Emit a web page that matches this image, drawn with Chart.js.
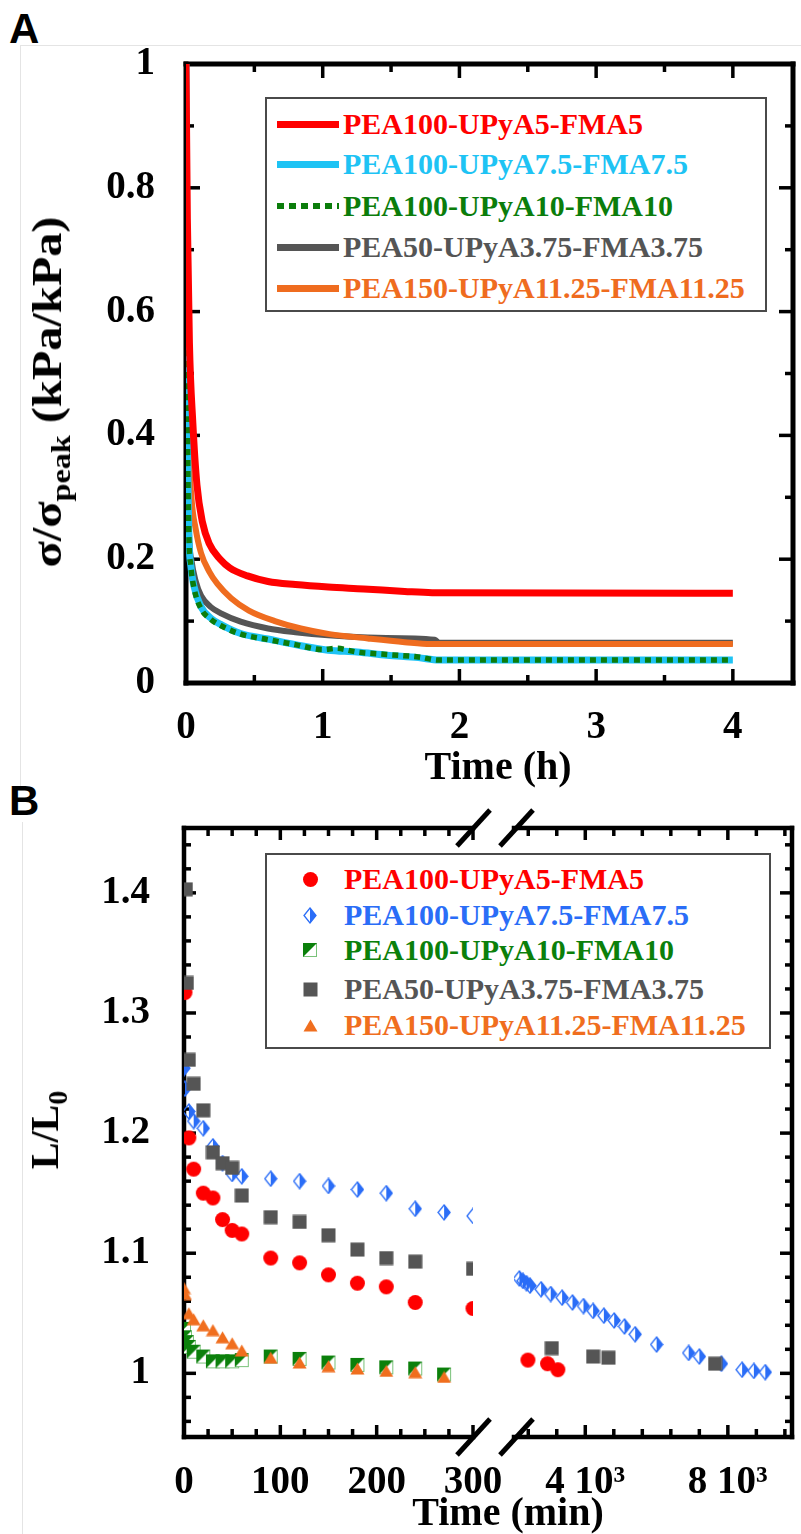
<!DOCTYPE html>
<html>
<head>
<meta charset="utf-8">
<title>Stress relaxation and length recovery</title>
<script src="https://cdn.jsdelivr.net/npm/chart.js@4.4.1/dist/chart.umd.min.js"></script>
<style>
  body { margin: 0; background: #fff; }
  #page { position: relative; width: 801px; height: 1534px; overflow: hidden;
          font-family: "Liberation Serif", "Times New Roman", serif; font-weight: bold; color: #000; }
  #page > canvas { position: absolute; }
  .tag { position: absolute; font: bold 42px "Liberation Sans", Arial, sans-serif; line-height: 42px; }
  .edge { position: absolute; border-color: #e4e4e4; border-style: solid; border-width: 0; }
  .legend { position: absolute; border: 2px solid #4a4a4a; box-sizing: border-box; background: #fff; }
  .row { position: absolute; font-size: 30px; line-height: 30px; white-space: nowrap; }
  .sample { position: absolute; height: 7px; width: 62px; }
  .mark { position: absolute; }
  .xtitle { position: absolute; font-size: 40px; line-height: 40px; white-space: nowrap; transform: translateX(-50%); }
  .ytitle { position: absolute; font-size: 40px; line-height: 40px; white-space: nowrap;
            transform: translate(-50%, -50%) rotate(-90deg); }
  .ytitle sub { font-size: 28px; line-height: 0; vertical-align: -9px; }
  #titleAY { font-size: 42px; transform: translate(-50%, -50%) rotate(-90deg) scaleX(1.15); }
</style>
</head>
<body>
<div id="page">
  <div class="edge" style="left:20px;top:45px;width:781px;height:740px;border-top-width:1px;border-left-width:1px;"></div>
  <div class="edge" style="left:22px;top:822px;width:1px;height:712px;border-left-width:1px;"></div>
  <div class="tag" style="left:9px;top:8px;">A</div>
  <div class="tag" style="left:9px;top:780px;">B</div>

  <canvas id="chartA" width="801" height="790" style="left:0;top:0;"></canvas>
  <canvas id="chartBL" width="801" height="744" style="left:0;top:790px;"></canvas>
  <canvas id="chartBR" width="306" height="744" style="left:495px;top:790px;"></canvas>

  <div id="titleAY" class="ytitle" style="left:47px;top:392px;">σ/σ<sub>peak</sub> (kPa/kPa)</div>
  <div class="xtitle" style="left:498px;top:746px;">Time (h)</div>
  <div class="ytitle" style="left:45px;top:1130px;">L/L<sub>0</sub></div>
  <div class="xtitle" style="left:508px;top:1492px;">Time (min)</div>

  <div id="legendA" class="legend" style="left:265px;top:97px;width:502px;height:215px;"></div>
  <div id="legendB" class="legend" style="left:265px;top:853px;width:506px;height:196px;"></div>
</div>

<script>
// series names, shared by both panels
const seriesNames = ['PEA100-UPyA5-FMA5', 'PEA100-UPyA7.5-FMA7.5', 'PEA100-UPyA10-FMA10',
                     'PEA50-UPyA3.75-FMA3.75', 'PEA150-UPyA11.25-FMA11.25'];
const relaxColors = ['#ff0000', '#1ec3f4', '#0b7d0b', '#555555', '#ef6c1f'];
const recoveryColors = ['#ff0000', '#2a6df7', '#0b800b', '#555555', '#f06e1e'];

// Panel A: stress relaxation, time (h) vs sigma/sigma_peak
const aT_5    = [0, 0.01, 0.025, 0.05, 0.08, 0.12, 0.17, 0.25, 0.32, 0.45, 0.6, 0.8, 1.04, 1.3, 1.6, 1.8, 4];
const aS_5    = [1, 0.75, 0.55, 0.42, 0.32, 0.26, 0.225, 0.2, 0.186, 0.173, 0.164, 0.159, 0.155, 0.152, 0.148, 0.146, 0.145];
const aT_75   = [0, 0.008, 0.02, 0.035, 0.06, 0.11, 0.18, 0.26, 0.4, 0.6, 0.8, 1.04, 1.25, 1.47, 1.7, 1.85, 4];
const aS_75   = [1, 0.5, 0.25, 0.19, 0.155, 0.123, 0.105, 0.094, 0.08, 0.071, 0.062, 0.053, 0.05, 0.045, 0.041, 0.037, 0.037];
const aT_10   = [0, 0.008, 0.02, 0.035, 0.06, 0.11, 0.18, 0.26, 0.4, 0.6, 0.8, 1.0, 1.1, 1.25, 1.47, 1.7, 1.85, 4];
const aS_10   = [1, 0.5, 0.25, 0.19, 0.152, 0.12, 0.103, 0.092, 0.079, 0.07, 0.062, 0.054, 0.056, 0.05, 0.046, 0.042, 0.037, 0.037];
const aT_375  = [0, 0.008, 0.02, 0.04, 0.07, 0.11, 0.18, 0.26, 0.4, 0.6, 0.8, 1.04, 1.4, 1.82, 1.85, 4];
const aS_375  = [1, 0.5, 0.26, 0.198, 0.165, 0.141, 0.123, 0.112, 0.099, 0.088, 0.082, 0.077, 0.073, 0.070, 0.065, 0.065];
const aT_1125 = [0, 0.01, 0.02, 0.04, 0.07, 0.11, 0.17, 0.23, 0.33, 0.46, 0.65, 0.84, 1.05, 1.33, 1.6, 1.79, 4];
const aS_1125 = [1, 0.6, 0.4, 0.3, 0.25, 0.21, 0.18, 0.16, 0.137, 0.117, 0.1, 0.088, 0.079, 0.072, 0.066, 0.063, 0.063];
const aXTicks = [0, 1, 2, 3, 4];
const aYTicks = [0, 0.2, 0.4, 0.6, 0.8, 1];

// Panel B: length recovery, time (min) vs L/L0
const bT_5    = [1, 5, 10, 20, 30, 40, 50, 60, 90, 120, 150, 180, 210, 240, 300, 2390, 2940, 3230];
const bL_5    = [1.317, 1.196, 1.170, 1.150, 1.146, 1.128, 1.119, 1.116, 1.096, 1.092, 1.082, 1.075, 1.072, 1.059, 1.054, 1.011, 1.008, 1.003];
const bT_75   = [0, 1, 5, 10, 20, 30, 40, 50, 60, 90, 120, 150, 180, 210, 240, 270, 300,
                 2150, 2250, 2350, 2450, 2760, 3030, 3350, 3640, 3950, 4220, 4520, 4810, 5100, 5400, 6000, 6900, 7200, 7820, 8400, 8730, 9050];
const bL_75   = [1.254, 1.237, 1.218, 1.210, 1.204, 1.189, 1.175, 1.166, 1.164, 1.162, 1.160, 1.156, 1.153, 1.150, 1.137, 1.134, 1.131,
                 1.079, 1.077, 1.075, 1.073, 1.070, 1.066, 1.063, 1.059, 1.056, 1.052, 1.048, 1.044, 1.039, 1.0325, 1.024, 1.017, 1.014, 1.008, 1.003, 1.002, 1.001];
const bT_10   = [0, 1, 3, 5, 10, 20, 30, 40, 50, 60, 90, 120, 150, 180, 210, 240, 270];
const bL_10   = [1.037, 1.030, 1.026, 1.022, 1.018, 1.014, 1.010, 1.010, 1.010, 1.011, 1.014, 1.012, 1.009, 1.007, 1.005, 1.004, 0.999];
const bT_375  = [2, 3, 5, 10, 20, 30, 40, 50, 60, 90, 120, 150, 180, 210, 240, 300, 3060, 4220, 4650, 7640];
const bL_375  = [1.403, 1.325, 1.261, 1.241, 1.219, 1.184, 1.175, 1.171, 1.148, 1.130, 1.126, 1.115, 1.103, 1.096, 1.093, 1.087, 1.021, 1.014, 1.013, 1.008];
const bT_1125 = [0, 1, 5, 10, 20, 30, 40, 50, 60, 90, 120, 150, 180, 210, 240, 270];
const bL_1125 = [1.071, 1.066, 1.050, 1.045, 1.040, 1.036, 1.030, 1.025, 1.019, 1.013, 1.009, 1.006, 1.004, 1.002, 1.001, 0.997];
const bXTicksLeft = [0, 100, 200, 300];
const bXTicksRight = [4000, 8000];
const bXLabelsRight = ['4 10³', '8 10³'];
const bYTicks = [1, 1.1, 1.2, 1.3, 1.4];

const zip = (xs, ys) => xs.map((x, i) => ({x: x, y: ys[i]}));
const range = (a, b, step) => { const out = []; for (let v = a; v <= b + 1e-9; v += step) out.push(+v.toFixed(4)); return out; };
const without = (vals, skip) => vals.filter(v => !skip.some(s => Math.abs(s - v) < 1e-6));

// markers for panel B (also reused in the legend)
function marker(kind, color) {
  const c = document.createElement('canvas');
  const size = {circle: [17, 17], diamond: [14, 17], half: [16, 16], square: [15, 15], triangle: [15, 13]}[kind];
  c.width = size[0]; c.height = size[1];
  const g = c.getContext('2d');
  const w = c.width, h = c.height;
  g.fillStyle = color; g.strokeStyle = color;
  if (kind === 'circle') {
    g.beginPath(); g.arc(w / 2, h / 2, 7.5, 0, Math.PI * 2); g.fill();
  } else if (kind === 'square') {
    g.fillRect(0.5, 0.5, w - 1, h - 1);
  } else if (kind === 'triangle') {
    g.beginPath(); g.moveTo(w / 2, 0.5); g.lineTo(w - 0.5, h - 0.5); g.lineTo(0.5, h - 0.5); g.closePath(); g.fill();
  } else if (kind === 'diamond') {
    g.lineWidth = 1.3;
    g.beginPath(); g.moveTo(w / 2, 1); g.lineTo(w - 1, h / 2); g.lineTo(w / 2, h - 1); g.lineTo(1, h / 2); g.closePath(); g.stroke();
    g.beginPath(); g.moveTo(w / 2, 1); g.lineTo(w - 1, h / 2); g.lineTo(w / 2, h - 1); g.closePath(); g.fill();
  } else if (kind === 'half') {
    g.strokeStyle = '#79c279'; g.lineWidth = 1;
    g.fillStyle = '#fff'; g.fillRect(1, 1, w - 2, h - 2);
    g.strokeRect(1.5, 1.5, w - 3, h - 3);
    g.fillStyle = color;
    g.beginPath(); g.moveTo(1, 1); g.lineTo(w - 1, 1); g.lineTo(1, h - 1); g.closePath(); g.fill();
  }
  return c;
}
const markerKinds = ['circle', 'diamond', 'half', 'square', 'triangle'];

// frame, inward ticks and axis break, drawn under the data
const framePlugin = {
  id: 'frame',
  beforeDatasetsDraw(chart, args, o) {
    const {ctx, chartArea: a} = chart;
    const xs = chart.scales.x, ys = chart.scales.y;
    ctx.save();
    ctx.strokeStyle = '#000';
    ctx.lineWidth = o.tickWidth;
    const line = (x1, y1, x2, y2) => { ctx.beginPath(); ctx.moveTo(x1, y1); ctx.lineTo(x2, y2); ctx.stroke(); };
    const xTick = (v, len) => { const p = xs.getPixelForValue(v); line(p, a.bottom, p, a.bottom - len); line(p, a.top, p, a.top + len); };
    const yTick = (v, len) => {
      const p = ys.getPixelForValue(v);
      if (o.sides.includes('l')) line(a.left, p, a.left + len, p);
      if (o.sides.includes('r')) line(a.right, p, a.right - len, p);
    };
    o.xMajor.forEach(v => xTick(v, o.xMajorLen));
    o.xMinor.forEach(v => xTick(v, o.xMinorLen));
    o.yMajor.forEach(v => yTick(v, o.yMajorLen));
    o.yMinor.forEach(v => yTick(v, o.yMinorLen));
    ctx.lineWidth = o.lineWidth;
    ctx.lineCap = 'square';
    line(a.left, a.top, a.right, a.top);
    line(a.left, a.bottom, a.right, a.bottom);
    if (o.sides.includes('l')) line(a.left, a.top, a.left, a.bottom);
    if (o.sides.includes('r')) line(a.right, a.top, a.right, a.bottom);
    if (o.breakAt) {
      const bx = o.breakAt === 'right' ? a.right : a.left + 2;
      ctx.lineWidth = 5; ctx.lineCap = 'butt';
      [a.top, a.bottom].forEach(by => line(bx - 16, by + 18, bx + 17, by - 18));
    }
    ctx.restore();
  }
};

const tickFont = {family: '"Liberation Serif", "Times New Roman", serif', weight: 'bold', size: 39};
const fixBox = (w, h) => s => {
  if (w !== null) s.width = w;
  if (h !== null) s.height = h;
  s.paddingLeft = s.paddingRight = s.paddingTop = s.paddingBottom = 0;
};
const setTicks = vals => s => { s.ticks = vals.map(v => ({value: v})); };

Chart.defaults.font = tickFont;
Chart.defaults.color = '#000';

// ---- Panel A ----
const relaxT = [aT_5, aT_75, aT_10, aT_375, aT_1125];
const relaxS = [aS_5, aS_75, aS_10, aS_375, aS_1125];
const relaxWidth = [7, 7, 5.5, 6, 6];
const relaxOrder = [0, 2, 1, 4, 3];
new Chart(document.getElementById('chartA'), {
  type: 'line',
  data: {
    datasets: seriesNames.map((name, i) => ({
      label: name,
      data: zip(relaxT[i], relaxS[i]),
      borderColor: relaxColors[i],
      borderWidth: relaxWidth[i],
      borderDash: i === 2 ? [6, 5] : [],
      pointRadius: 0,
      cubicInterpolationMode: 'monotone',
      order: relaxOrder[i]
    }))
  },
  options: {
    responsive: false, animation: false, events: [],
    layout: {padding: {left: 0, top: 64, right: 8, bottom: 0}},
    plugins: {
      legend: {display: false}, tooltip: {enabled: false},
      frame: {
        sides: 'lr', lineWidth: 5, tickWidth: 3.5,
        xMajor: aXTicks, xMinor: range(0.5, 3.5, 1), xMajorLen: 14, xMinorLen: 8,
        yMajor: aYTicks, yMinor: range(0.1, 0.9, 0.2), yMajorLen: 14, yMinorLen: 8
      }
    },
    scales: {
      x: {
        type: 'linear', min: 0, max: 4.44,
        grid: {display: false}, border: {display: false},
        afterBuildTicks: setTicks(aXTicks),
        afterFit: fixBox(null, 107),
        ticks: {padding: 14, maxRotation: 0, callback: v => String(v)}
      },
      y: {
        type: 'linear', min: 0, max: 1,
        grid: {display: false}, border: {display: false},
        afterBuildTicks: setTicks(aYTicks),
        afterFit: fixBox(186, null),
        ticks: {padding: 23, callback: v => String(v)}
      }
    }
  },
  plugins: [framePlugin]
});

// ---- Panel B (broken time axis: two charts sharing the y range) ----
const recT = [bT_5, bT_75, bT_10, bT_375, bT_1125];
const recL = [bL_5, bL_75, bL_10, bL_375, bL_1125];
const recOrder = [4, 3, 2, 1, 0];
const bYMinor = without(range(0.96, 1.44, 0.02), bYTicks);

function recoveryDatasets(keep) {
  return seriesNames.map((name, i) => ({
    label: name,
    data: zip(recT[i], recL[i]).filter(p => keep(p.x)),
    showLine: false,
    pointStyle: marker(markerKinds[i], recoveryColors[i]),
    pointRadius: 8,
    order: recOrder[i]
  }));
}

function recoveryChart(id, opts) {
  return new Chart(document.getElementById(id), {
    type: 'scatter',
    data: {datasets: recoveryDatasets(opts.keep)},
    options: {
      responsive: false, animation: false, events: [],
      layout: {padding: opts.padding},
      plugins: {
        legend: {display: false}, tooltip: {enabled: false},
        frame: Object.assign({lineWidth: 4.5, tickWidth: 3.5, xMajorLen: 12, xMinorLen: 8,
                              yMajor: bYTicks, yMinor: bYMinor, yMajorLen: 12, yMinorLen: 7}, opts.frame)
      },
      scales: {
        x: {
          type: 'linear', min: opts.xMin, max: opts.xMax,
          grid: {display: false}, border: {display: false},
          afterBuildTicks: setTicks(opts.xTicks),
          afterFit: fixBox(null, 97),
          ticks: {padding: 15, maxRotation: 0, callback: opts.xLabel}
        },
        y: {
          type: 'linear', min: 0.947, max: 1.454, display: opts.showY,
          grid: {display: false}, border: {display: false},
          afterBuildTicks: setTicks(bYTicks),
          afterFit: fixBox(opts.showY ? 184 : 0, null),
          ticks: {padding: 26, callback: v => String(v)}
        }
      }
    },
    plugins: [framePlugin]
  });
}

recoveryChart('chartBL', {
  keep: t => t <= 300, xMin: 0, xMax: 300, xTicks: bXTicksLeft, xLabel: v => String(v),
  showY: true, padding: {left: 0, top: 38, right: 328, bottom: 0},
  frame: {sides: 'l', breakAt: 'right', xMajor: bXTicksLeft, xMinor: without(range(25, 275, 25), bXTicksLeft)}
});
recoveryChart('chartBR', {
  keep: t => t >= 2000, xMin: 2000, xMax: 9800, xTicks: bXTicksRight, xLabel: (v, i) => bXLabelsRight[i],
  showY: false, padding: {left: 19, top: 38, right: 2, bottom: 0},
  frame: {sides: 'r', breakAt: 'left', xMajor: bXTicksRight, xMinor: without(range(2400, 9600, 800), bXTicksRight)}
});

// ---- legends ----
const rowsA = [25, 65, 107, 148, 189];
const legendA = document.getElementById('legendA');
seriesNames.forEach((name, i) => {
  const s = document.createElement('div');
  s.className = 'sample';
  s.style.left = '10px';
  s.style.top = (rowsA[i] - 3) + 'px';
  s.style.background = i === 2
    ? 'repeating-linear-gradient(90deg, ' + relaxColors[i] + ' 0 7px, transparent 7px 12px)'
    : relaxColors[i];
  if (i === 2) s.style.height = '6px';
  legendA.appendChild(s);
  const t = document.createElement('div');
  t.className = 'row';
  t.style.left = '76px';
  t.style.top = (rowsA[i] - 15) + 'px';
  t.style.color = relaxColors[i];
  t.textContent = name;
  legendA.appendChild(t);
});

const rowsB = [24, 60, 95, 134, 170];
const legendB = document.getElementById('legendB');
seriesNames.forEach((name, i) => {
  const m = marker(markerKinds[i], recoveryColors[i]);
  m.className = 'mark';
  m.style.left = (43 - m.width / 2) + 'px';
  m.style.top = (rowsB[i] - m.height / 2) + 'px';
  legendB.appendChild(m);
  const t = document.createElement('div');
  t.className = 'row';
  t.style.left = '77px';
  t.style.top = (rowsB[i] - 15) + 'px';
  t.style.color = recoveryColors[i];
  t.textContent = name;
  legendB.appendChild(t);
});
</script>
</body>
</html>
